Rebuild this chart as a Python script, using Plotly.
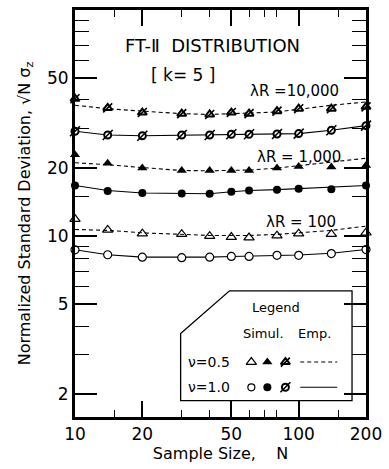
import plotly.graph_objects as go

# ---------------- data ----------------
N = [10, 14, 20, 30, 40, 50, 60, 80, 100, 140, 200]

# Simulation points
sim_05_100 = [11.9, 10.65, 10.25, 10.2, 10.0, 9.9, 9.85, 10.05, 10.25, 10.2, 10.35]
sim_10_100 = [8.7, 8.27, 8.07, 8.03, 8.07, 8.13, 8.13, 8.22, 8.22, 8.37, 8.72]
sim_05_1000 = [22.9, 21.0, 20.0, 19.5, 19.5, 19.5, 19.5, 20.0, 20.3, 20.2, 20.5]
sim_10_1000 = [16.75, 15.85, 15.5, 15.45, 15.4, 15.7, 15.9, 16.05, 16.2, 16.1, 16.75]
# Empirical (real data) points
emp_pts_05_10000 = [40.5, 36.9, 35.2, 34.8, 34.5, 35.2, 34.8, 35.7, 36.6, 36.6, 37.3]
emp_pts_10_10000 = [29.1, 28.0, 27.8, 28.0, 28.0, 28.2, 28.2, 28.3, 28.4, 29.4, 30.8]

# Empirical curves
emp_05_100 = [10.7, 10.6, 10.34, 10.17, 10.07, 10.07, 10.07, 10.17, 10.34, 10.6, 11.07]
emp_10_100 = [8.7, 8.27, 8.07, 8.05, 8.07, 8.13, 8.15, 8.22, 8.25, 8.4, 8.72]
emp_05_1000 = [21.1, 20.7, 20.1, 19.5, 19.45, 19.5, 19.6, 20.0, 20.5, 21.2, 22.1]
emp_10_1000 = [16.75, 15.9, 15.5, 15.5, 15.4, 15.7, 15.9, 16.05, 16.2, 16.5, 16.75]
emp_05_10000 = [37.9, 36.6, 35.7, 34.8, 34.5, 34.8, 34.8, 35.4, 36.4, 37.9, 39.2]
emp_10_10000 = [29.1, 28.0, 27.8, 28.0, 28.0, 28.2, 28.2, 28.3, 28.4, 29.4, 30.8]

x_ticks = [10, 20, 50, 100, 200]
x_ticktext = ["10", "20", "50", "100", "200"]
x_minor = [15, 30, 40, 60, 70, 80, 150]
y_ticks = [2, 5, 10, 20, 50]
y_ticktext = ["2", "5", "10", "20", "50"]
y_minor = [3, 4, 6, 7, 8, 9, 15, 30, 40, 60, 70, 80, 90]

FONT = "DejaVu Sans"
BLK = "black"
DASH = "4px,3px"

fig = go.Figure()

def line(y, dash):
    fig.add_trace(go.Scatter(x=N, y=y, mode="lines",
                             line=dict(color=BLK, width=1.1, dash=dash),
                             showlegend=False, hoverinfo="skip", cliponaxis=False))

line(emp_05_100, DASH)
line(emp_10_100, "solid")
line(emp_05_1000, DASH)
line(emp_10_1000, "solid")
line(emp_05_10000, DASH)
line(emp_10_10000, "solid")

fig.add_trace(go.Scatter(x=N, y=sim_05_100, mode="markers", cliponaxis=False, showlegend=False,
                         marker=dict(symbol="triangle-up-open", size=9, color=BLK, line=dict(width=1.2))))
fig.add_trace(go.Scatter(x=N, y=sim_10_100, mode="markers", cliponaxis=False, showlegend=False,
                         marker=dict(symbol="circle", size=8, color="white", line=dict(color=BLK, width=1.2))))
fig.add_trace(go.Scatter(x=N, y=sim_05_1000, mode="markers", cliponaxis=False, showlegend=False,
                         marker=dict(symbol="triangle-up", size=9, color=BLK, line=dict(width=0))))
fig.add_trace(go.Scatter(x=N, y=sim_10_1000, mode="markers", cliponaxis=False, showlegend=False,
                         marker=dict(symbol="circle", size=8, color=BLK, line=dict(width=0))))
# crossed markers (empirical data points)
fig.add_trace(go.Scatter(x=N, y=emp_pts_05_10000, mode="markers", cliponaxis=False, showlegend=False,
                         marker=dict(symbol="triangle-up", size=8, color="white", line=dict(color=BLK, width=2))))
fig.add_trace(go.Scatter(x=N, y=emp_pts_05_10000, mode="markers", cliponaxis=False, showlegend=False,
                         marker=dict(symbol="line-ne", size=9, color=BLK, line=dict(color=BLK, width=1.6))))
fig.add_trace(go.Scatter(x=N, y=emp_pts_10_10000, mode="markers", cliponaxis=False, showlegend=False,
                         marker=dict(symbol="circle", size=7, color="white", line=dict(color=BLK, width=2))))
fig.add_trace(go.Scatter(x=N, y=emp_pts_10_10000, mode="markers", cliponaxis=False, showlegend=False,
                         marker=dict(symbol="line-ne", size=10, color=BLK, line=dict(color=BLK, width=1.6))))

# ---------------- legend box contents (overlay axes 0..1) ----------------
LX = [0.606, 0.661, 0.723]
R1, R2 = 0.135, 0.073
lg = dict(xaxis="x2", yaxis="y2", showlegend=False, hoverinfo="skip", cliponaxis=False)
fig.add_trace(go.Scatter(x=[LX[0]], y=[R1], mode="markers",
                         marker=dict(symbol="triangle-up-open", size=9, color=BLK, line=dict(width=1.2)), **lg))
fig.add_trace(go.Scatter(x=[LX[1]], y=[R1], mode="markers",
                         marker=dict(symbol="triangle-up", size=9, color=BLK), **lg))
fig.add_trace(go.Scatter(x=[LX[2]], y=[R1], mode="markers",
                         marker=dict(symbol="triangle-up", size=8, color="white", line=dict(color=BLK, width=2)), **lg))
fig.add_trace(go.Scatter(x=[LX[2]], y=[R1], mode="markers",
                         marker=dict(symbol="line-ne", size=9, color=BLK, line=dict(color=BLK, width=1.6)), **lg))
fig.add_trace(go.Scatter(x=[0.774, 0.901], y=[R1, R1], mode="lines",
                         line=dict(color=BLK, width=1.1, dash=DASH), **lg))
fig.add_trace(go.Scatter(x=[LX[0]], y=[R2], mode="markers",
                         marker=dict(symbol="circle", size=7, color="white", line=dict(color=BLK, width=1.2)), **lg))
fig.add_trace(go.Scatter(x=[LX[1]], y=[R2], mode="markers",
                         marker=dict(symbol="circle", size=8, color=BLK), **lg))
fig.add_trace(go.Scatter(x=[LX[2]], y=[R2], mode="markers",
                         marker=dict(symbol="circle", size=7, color="white", line=dict(color=BLK, width=2)), **lg))
fig.add_trace(go.Scatter(x=[LX[2]], y=[R2], mode="markers",
                         marker=dict(symbol="line-ne", size=10, color=BLK, line=dict(color=BLK, width=1.6)), **lg))
fig.add_trace(go.Scatter(x=[0.774, 0.901], y=[R2, R2], mode="lines",
                         line=dict(color=BLK, width=1.1), **lg))

# legend frame with clipped corner
fig.add_shape(type="path", xref="paper", yref="paper",
              path="M 0.363 0.205 L 0.531 0.310 L 0.952 0.310 L 0.952 0.040 L 0.363 0.040 Z",
              line=dict(color=BLK, width=1.3), fillcolor="white", layer="below")

annots = [
    dict(text="FT-Ⅱ  DISTRIBUTION", x=0.473, y=0.912, size=18),
    dict(text="[ k= 5 ]", x=0.370, y=0.841, size=17),
    dict(text="λR =10,000", x=0.755, y=0.802, size=15),
    dict(text="λR = 1,000", x=0.770, y=0.639, size=15),
    dict(text="λR = 100", x=0.777, y=0.480, size=15),
    dict(text="Legend", x=0.692, y=0.268, size=13),
    dict(text="Simul.", x=0.647, y=0.205, size=13),
    dict(text="Emp.", x=0.822, y=0.205, size=13),
    dict(text="ν=0.5", x=0.462, y=R1, size=14),
    dict(text="ν=1.0", x=0.462, y=R2, size=14),
]
for a in annots:
    fig.add_annotation(text=a["text"], x=a["x"], y=a["y"], xref="paper", yref="paper",
                       showarrow=False, xanchor="center", yanchor="middle",
                       font=dict(family=FONT, size=a["size"], color=BLK))

axis_common = dict(showgrid=False, zeroline=False, showline=True, linewidth=3, linecolor=BLK,
                   mirror="allticks", ticks="inside", tickcolor=BLK, tickwidth=1.5,
                   tickfont=dict(family=FONT, size=17, color=BLK))

fig.update_layout(
    width=389, height=469,
    margin=dict(l=75, r=22, t=7, b=52),
    paper_bgcolor="white", plot_bgcolor="white",
    showlegend=False,
    font=dict(family=FONT, color=BLK),
    xaxis=dict(type="log", range=[1, 2.30103], tickmode="array",
               tickvals=x_ticks, ticktext=x_ticktext, ticklen=16,
               minor=dict(tickmode="array", tickvals=x_minor, ticks="inside", ticklen=7,
                          tickcolor=BLK, tickwidth=1.3, showgrid=False),
               title=dict(text="Sample Size,    N", font=dict(family=FONT, size=16, color=BLK), standoff=4),
               **axis_common),
    yaxis=dict(type="log", range=[0.2, 2], tickmode="array",
               tickvals=y_ticks, ticktext=y_ticktext, ticklen=22,
               minor=dict(tickmode="array", tickvals=y_minor, ticks="inside", ticklen=14,
                          tickcolor=BLK, tickwidth=1.3, showgrid=False),
               title=dict(text="Normalized Standard Deviation, √N σ<sub>z</sub>",
                          font=dict(family=FONT, size=16, color=BLK), standoff=13),
               **axis_common),
    xaxis2=dict(overlaying="x", range=[0, 1], visible=False, domain=[0, 1]),
    yaxis2=dict(overlaying="y", range=[0, 1], visible=False, domain=[0, 1]),
)

fig.write_html("out.html")
